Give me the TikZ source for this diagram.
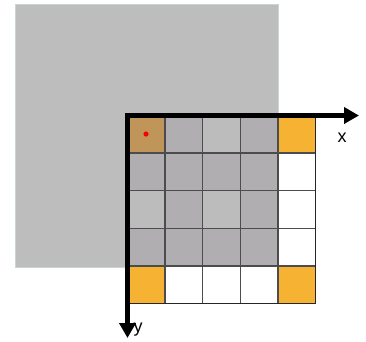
\documentclass[tikz,border=0pt]{standalone}
\usepackage{fontspec}
\setmainfont{Liberation Sans}
\usetikzlibrary{arrows.meta}
\definecolor{bgsq}{HTML}{BDBDBD}
\definecolor{bgedge}{HTML}{C9D8C9}
\definecolor{darkc}{HTML}{B0AEB0}
\definecolor{lightc}{HTML}{BDBCBD}
\definecolor{orangec}{HTML}{F6B233}
\definecolor{brownc}{HTML}{C0955A}
\tikzset{
  cell/.style={draw=black!70, line width=1.3pt, minimum size=37.6pt, inner sep=0pt, outer sep=0pt, anchor=north west},
  axisline/.style={line width=4.4pt, -{Triangle[length=15pt,width=16pt]}},
  lbl/.style={font=\fontsize{18}{18}\selectfont, inner sep=0pt}
}
\begin{document}
\begin{tikzpicture}[x=1pt,y=-1pt]
\useasboundingbox (0,0) rectangle (366,341);
\fill[white] (0,0) rectangle (366,341);
\node[draw=bgedge, fill=bgsq, line width=1pt, minimum width=263pt, minimum height=263pt, inner sep=0pt, anchor=north west] (big) at (15,4) {};
\foreach \r in {0,...,4}{
  \foreach \c in {0,...,4}{
    \pgfmathtruncatemacro{\ev}{(mod(\r,2)==0 && mod(\c,2)==0) ? 1 : 0}
    \ifnum\r<4 \ifnum\c<4
      \ifnum\ev=1 \def\cc{lightc}\else\def\cc{darkc}\fi
    \else \def\cc{white}\fi
    \else \def\cc{white}\fi
    \node[cell, fill=\cc] (c\r\c) at (127.5+37.6*\c, 115.5+37.6*\r) {};
  }
}
\node[cell, fill=brownc] (c00) at (127.5,115.5) {};
\node[cell, fill=orangec] (c04) at (127.5+37.6*4,115.5) {};
\node[cell, fill=orangec] (c40) at (127.5,115.5+37.6*4) {};
\node[cell, fill=orangec] (c44) at (127.5+37.6*4,115.5+37.6*4) {};
\draw[black!85, line width=1.8pt] (c04.north east) -- (c44.south east) -- (c40.south west);
\fill[red] (146,134) circle (2.6pt);
\coordinate (o) at (127.5,115.5);
\coordinate (xe) at (359,115.5);
\coordinate (ye) at (127.5,338);
\draw[axisline] ([xshift=-2.2pt]o) -- (xe);
\draw[axisline] (o) -- (ye);
\node[lbl] (xl) at (342,138) {x};
\node[lbl] (yl) at (138,330) {y};
\end{tikzpicture}
\end{document}
